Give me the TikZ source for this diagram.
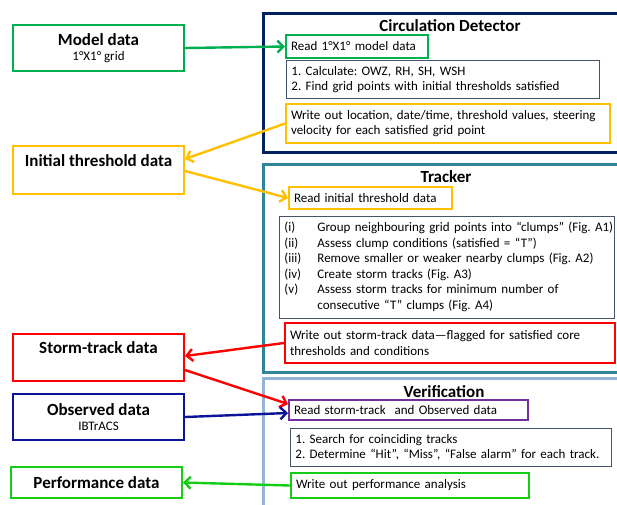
\documentclass[tikz,border=0pt]{standalone}
\usepackage{fontspec}
\setmainfont{Carlito}
\usetikzlibrary{positioning,arrows.meta}

\definecolor{modelgreen}{RGB}{0,176,80}
\definecolor{threshgold}{RGB}{255,192,0}
\definecolor{stormred}{RGB}{255,0,0}
\definecolor{obsblue}{RGB}{10,20,150}
\definecolor{perfgreen}{RGB}{20,205,20}
\definecolor{detnavy}{RGB}{0,32,96}
\definecolor{trackteal}{RGB}{49,133,155}
\definecolor{verblue}{RGB}{149,179,215}
\definecolor{readpurple}{RGB}{112,48,160}
\definecolor{stepslate}{RGB}{68,84,106}

\tikzset{
  outerbox/.style={draw, line width=3pt, anchor=north west, inner sep=0pt},
  titletext/.style={font=\fontsize{17}{19}\selectfont\bfseries, inner sep=0pt},
  databox/.style={draw, line width=2pt, align=center, minimum width=171pt, inner sep=2pt},
  stepbox/.style={draw, line width=2pt, anchor=north west, inner xsep=5pt, inner ysep=2pt, align=left},
  listbox/.style={stepbox, line width=0.9pt, draw=stepslate},
  flow/.style={line width=2.4pt, -{Straight Barb[length=6pt,width=12pt,line width=2.4pt]}}
}
\newcommand{\dataname}[1]{{\fontsize{17}{19}\selectfont\bfseries #1}}

\begin{document}
\frenchspacing
\begin{tikzpicture}[x=1pt, y=-1pt, font=\fontsize{13}{15.5}\selectfont]
\useasboundingbox (0,0) rectangle (617,504);
\clip (0,0) rectangle (617,504);

% modules
\node[outerbox, draw=detnavy, minimum width=370pt, minimum height=139pt] (detector) at (262,12) {};
\node[titletext] (dettitle) at (450,26) {Circulation Detector};
\node[outerbox, draw=trackteal, minimum width=370pt, minimum height=208pt] (tracker) at (262,163) {};
\node[titletext] (tracktitle) at (446,177) {Tracker};
\node[outerbox, draw=verblue, minimum width=370pt, minimum height=140pt] (verif) at (262,377) {};
\node[titletext] (veriftitle) at (444,392) {Verification};

% steps inside the modules
\node[stepbox, draw=modelgreen, text width=132pt, minimum height=23pt] (readmodel) at (285,34) {Read 1°X1° model data};
\node[listbox, text width=303pt, minimum height=38pt] (calc) at (286,60)
  {1. Calculate: OWZ, RH, SH, WSH\\2. Find grid points with initial thresholds satisfied};
\node[stepbox, draw=threshgold, text width=314pt, minimum height=39pt] (writeloc) at (285,103)
  {Write out location, date/time, threshold values, steering\\velocity for each satisfied grid point};

\node[stepbox, draw=threshgold, text width=153pt, minimum height=22pt] (readthresh) at (288,186) {Read initial threshold data};
\node[listbox, text width=325pt, minimum height=102pt] (clumps) at (279,216) {%
  \begin{tabular}{@{}p{33pt}@{}l@{}}
  (i)   & Group neighbouring grid points into “clumps” (Fig. A1)\\
  (ii)  & Assess clump conditions (satisfied = “T”)\\
  (iii) & Remove smaller or weaker nearby clumps (Fig. A2)\\
  (iv)  & Create storm tracks (Fig. A3)\\
  (v)   & Assess storm tracks for minimum number of\\
        & consecutive “T” clumps (Fig. A4)
  \end{tabular}};
\node[stepbox, draw=stormred, text width=320pt, minimum height=40pt] (writestorm) at (284,322)
  {Write out storm-track data—flagged for satisfied core\\thresholds and conditions};

\node[stepbox, draw=readpurple, text width=229pt, minimum height=20pt] (readobs) at (288,399) {Read storm-track\ \ and Observed data};
\node[listbox, text width=311pt, minimum height=38pt] (search) at (290,428)
  {1. Search for coinciding tracks\\2. Determine “Hit”, “Miss”, “False alarm” for each track.};
\node[stepbox, draw=perfgreen, text width=228pt, minimum height=25pt] (writeperf) at (290,472) {Write out performance analysis};

% data on the left
\node[databox, draw=modelgreen, minimum height=46pt] (model) at (98.5,48)
  {\dataname{Model data}\\1°X1° grid};
\node[databox, draw=threshgold, minimum height=48pt] (thresh) at (98.5,170)
  {\dataname{Initial threshold data}\\[4pt]\mbox{}};
\node[databox, draw=stormred, minimum height=47pt] (storm) at (98.5,357.5)
  {\dataname{Storm-track data}\\[4pt]\mbox{}};
\node[databox, draw=obsblue, minimum height=46pt] (observed) at (98.5,417)
  {\dataname{Observed data}\\IBTrACS};
\node[databox, draw=perfgreen, minimum height=31pt] (perf) at (96.5,482.5)
  {\dataname{Performance data}};

% data flow
\draw[flow, modelgreen] (model.east) -- (readmodel.west);
\draw[flow, threshgold] (writeloc.west) -- ([yshift=-14pt]thresh.north east);
\draw[flow, threshgold] ([yshift=-26pt]thresh.north east) -- (readthresh.west);
\draw[flow, stormred] (writestorm.west) -- ([yshift=-23pt]storm.north east);
\draw[flow, stormred] ([yshift=-37pt]storm.north east) -- ([yshift=-5pt]readobs.north west);
\draw[flow, obsblue] (observed.east) -- ([yshift=-14pt]readobs.north west);
\draw[flow, perfgreen] (writeperf.west) -- (perf.east);

\end{tikzpicture}
\end{document}
